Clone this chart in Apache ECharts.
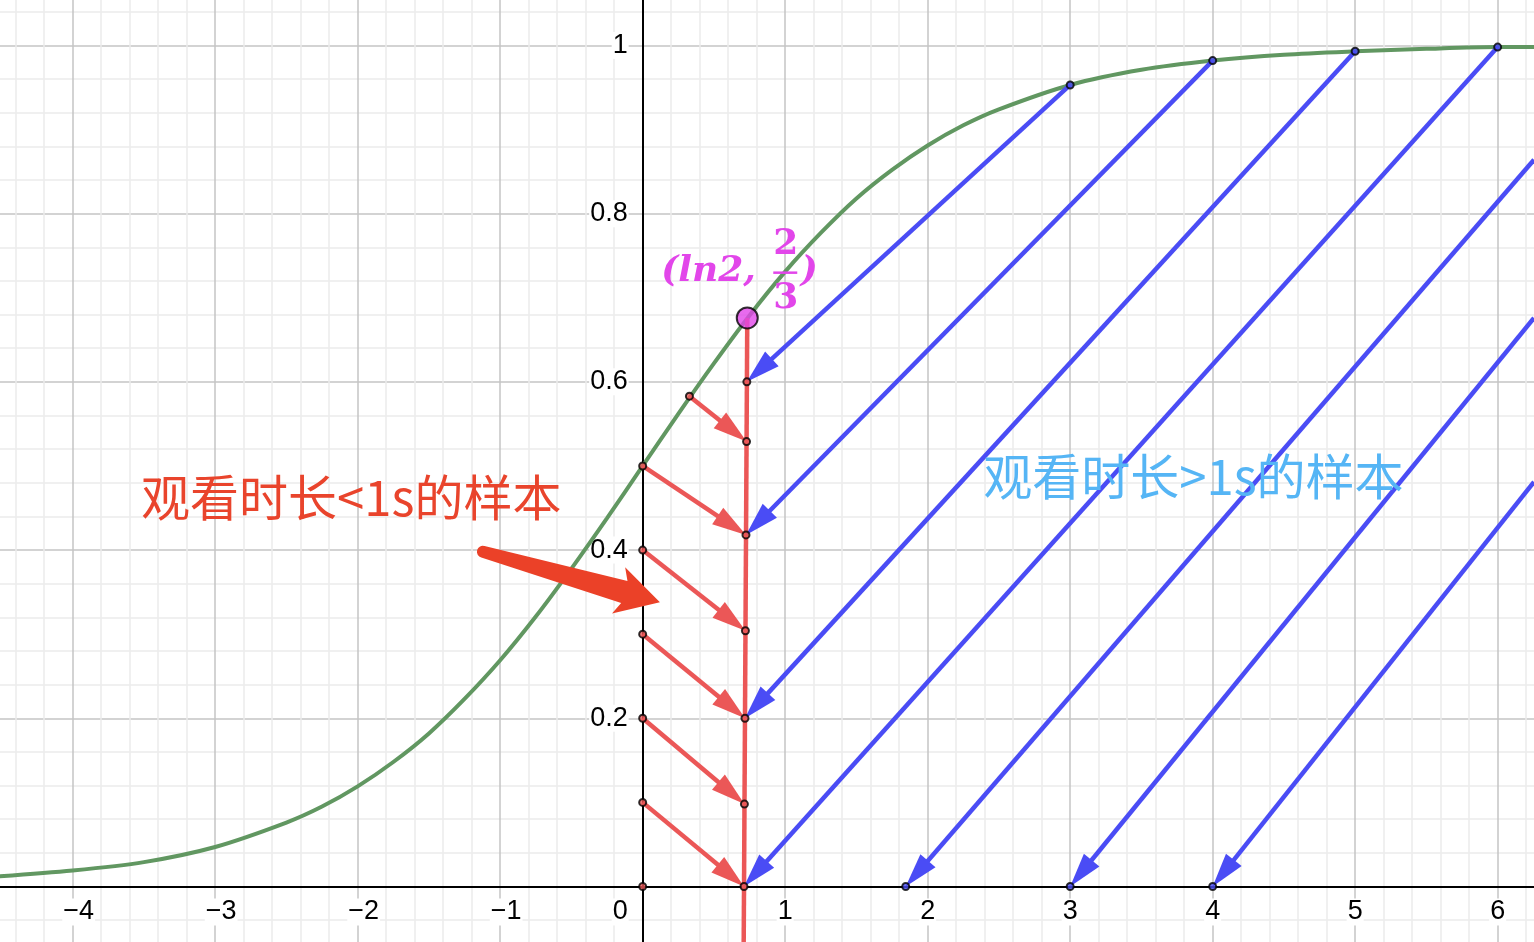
<!DOCTYPE html>
<html><head><meta charset="utf-8">
<script src="https://cdn.jsdelivr.net/npm/echarts@6/dist/echarts.min.js"></script>
<style>html,body{margin:0;padding:0;background:#fff;overflow:hidden}#c{width:1534px;height:942px}</style>
</head><body><div id="c"></div>
<script>
// ---- data ----
const curveX = [-4.6,-4,-3.5,-3,-2.5,-2.25,-2,-1.75,-1.5,-1.25,-1,-0.75,-0.5,-0.25,0,0.25,0.5,0.75,1,1.25,1.5,1.75,2,2.25,2.5,3,3.5,4,4.5,5,5.5,6,6.3];
const curveY = [0.011,0.019,0.029,0.047,0.076,0.095,0.119,0.148,0.182,0.223,0.269,0.321,0.378,0.438,0.500,0.562,0.622,0.679,0.731,0.777,0.818,0.852,0.881,0.905,0.924,0.953,0.971,0.982,0.989,0.993,0.996,0.998,0.998];
const blueFrom = [[3,0.953],[4,0.982],[5,0.993],[6,0.998],[6.255,0.864],[6.255,0.676],[6.255,0.481]];
const blueTo   = [[0.731,0.6],[0.725,0.418],[0.718,0.2],[0.711,0],[1.846,0],[3,0],[4,0]];
const redFrom  = [[0.328,0.583],[0,0.5],[0,0.4],[0,0.3],[0,0.2],[0,0.1]];
const redTo    = [[0.729,0.529],[0.725,0.418],[0.721,0.304],[0.718,0.2],[0.714,0.098],[0.711,0]];
const redLine  = [[0.734,0.676],[0.709,-0.066]];
const keyPoint = [0.734,0.676];
const redDots  = [...redFrom, ...redTo, [0.731,0.6], [0,0]];
const blueDots = [...blueFrom.slice(0,4), ...blueTo.slice(4)];
const redLabel = '观看时长<1s的样本';
const blueLabel = '观看时长>1s的样本';
const keyLabel = ['(ln2,', '2', '3', ')'];

// ---- annotation anchors (data space) ----
const redLabelAt = [-3.52, 0.463];
const blueLabelAt = [2.39, 0.488];
const bigArrowTail = [-1.121, 0.398];
const bigArrowTip = [0.121, 0.338];

const X_MIN = -4.51, X_MAX = 6.255, Y_MIN = -0.066, Y_MAX = 1.054;
const C_GREEN = '#619761', C_RED = '#eb5757', C_BLUE = '#4a4cf5', C_MAG = '#e246ea';
const TICK_FONT = 'Liberation Sans';

function arrowRender(color) {
  return function (params, api) {
    const p1 = api.coord([api.value(0), api.value(1)]);
    const p2 = api.coord([api.value(2), api.value(3)]);
    const dx = p2[0]-p1[0], dy = p2[1]-p1[1];
    const len = Math.hypot(dx, dy);
    const ux = dx/len, uy = dy/len;
    const hl = 34, hw = 10;
    const bx = p2[0]-ux*hl, by = p2[1]-uy*hl;
    return {type:'group', children:[
      {type:'line', shape:{x1:p1[0],y1:p1[1],x2:bx+ux*6,y2:by+uy*6}, style:{stroke:color,lineWidth:4.5}},
      {type:'polygon', shape:{points:[[p2[0],p2[1]],[bx-uy*hw,by+ux*hw],[bx+uy*hw,by-ux*hw]]}, style:{fill:color}}
    ]};
  };
}
const arrowData = (a,b) => a.map((p,i)=>[p[0],p[1],b[i][0],b[i][1]]);

const tickRich = {
  a:{fontSize:27,fontFamily:TICK_FONT,color:'#000',backgroundColor:'#fff',lineHeight:19,padding:[0,1]},
  s0:{width:45},
  sn:{width:12}
};

const option = {
  animation:false,
  backgroundColor:'#fff',
  grid:{left:0,right:0,top:0,bottom:0,outerBoundsMode:'none',containLabel:false},
  xAxis:{type:'value',min:X_MIN,max:X_MAX,splitNumber:10,
    axisLine:{onZero:false,lineStyle:{color:'#000',width:2}},
    axisTick:{show:false},
    axisLabel:{showMinLabel:false,showMaxLabel:false,margin:16,rich:tickRich,
      formatter:v=>{
        if (Math.abs(v-Math.round(v))>1e-6) return '';
        const r=Math.round(v);
        if (r===0) return '{a|0}{s0|}';
        if (r<0) return '{sn|}{a|\u2212'+(-r)+'}';
        return '{a|'+r+'}';
      }},
    splitLine:{show:true,showMinLine:false,showMaxLine:false,lineStyle:{color:'#c4c4c4',width:1.5}},
    minorTick:{show:false,splitNumber:5},
    minorSplitLine:{show:true,lineStyle:{color:'#ececec',width:1.5}}
  },
  yAxis:{type:'value',min:Y_MIN,max:Y_MAX,splitNumber:5,
    axisLine:{onZero:false,lineStyle:{color:'#000',width:2}},
    axisTick:{show:false},
    axisLabel:{showMinLabel:false,showMaxLabel:false,margin:14,rich:tickRich,
      formatter:v=>{
        const k=Math.round(v*5);
        if (Math.abs(v*5-k)>1e-6 || k===0) return '';
        return '{a|'+(k===5?'1':(k/5).toFixed(1))+'}';
      }},
    splitLine:{show:true,showMinLine:false,showMaxLine:false,lineStyle:{color:'#c4c4c4',width:1.5}},
    minorTick:{show:false,splitNumber:5},
    minorSplitLine:{show:true,lineStyle:{color:'#ececec',width:1.5}}
  },
  series:[
    {type:'line',data:curveX.map((x,i)=>[x,curveY[i]]),smooth:0.3,showSymbol:false,
      lineStyle:{color:C_GREEN,width:4},z:2},
    {type:'line',data:redLine,showSymbol:false,lineStyle:{color:C_RED,width:4.5},z:3},
    {type:'custom',data:arrowData(redFrom,redTo),renderItem:arrowRender(C_RED),encode:{x:[0,2],y:[1,3]},z:4},
    {type:'custom',data:arrowData(blueFrom,blueTo),renderItem:arrowRender(C_BLUE),encode:{x:[0,2],y:[1,3]},z:4},
    {type:'scatter',data:redDots,symbol:'circle',symbolSize:7,itemStyle:{color:C_RED,borderColor:'#000',borderWidth:2},z:5},
    {type:'scatter',data:blueDots,symbol:'circle',symbolSize:7,itemStyle:{color:C_BLUE,borderColor:'#000',borderWidth:2},z:5},
    {type:'scatter',data:[keyPoint],symbol:'circle',symbolSize:21,itemStyle:{color:C_MAG,borderColor:'#000',borderWidth:2},z:6}
  ]
};

const chart = echarts.init(document.getElementById('c'));
chart.setOption(option);
const px = p => chart.convertToPixel({gridIndex:0}, p);

// move the axes so they cross at the origin (labels follow)
const O = px([0,0]), corner = px([X_MIN, Y_MIN]);
chart.setOption({xAxis:{offset:O[1]-corner[1]}, yAxis:{offset:corner[0]-O[0]}});

const P = px(keyPoint);
const rl = px(redLabelAt), bl = px(blueLabelAt);
const T = px(bigArrowTail), H = px(bigArrowTip);
const L = Math.hypot(H[0]-T[0], H[1]-T[1]);
const u = [(H[0]-T[0])/L, (H[1]-T[1])/L], n = [-u[1], u[0]];
const at = (base, a, b) => [base[0]+u[0]*a+n[0]*b, base[1]+u[1]*a+n[1]*b];
const tailR = 6;
const tailArc = [];
for (let k=1;k<8;k++){ const t=Math.PI/2+Math.PI*k/8; tailArc.push(at(T, tailR*Math.cos(t), tailR*Math.sin(t))); }
const bigShape = [at(T,0,tailR), at(H,-37,11.5), at(H,-43,24), H.slice(), at(H,-43,-24), at(H,-37,-11.5), at(T,0,-tailR)]
  .concat(tailArc.reverse());

const serif = '"DejaVu Serif", serif';
chart.setOption({graphic:[
  {type:'polygon',z:50,shape:{points:bigShape},style:{fill:'#eb4128'}},
  {type:'text',z:60,x:rl[0],y:rl[1],style:{text:redLabel,font:'49px "Noto Sans CJK SC"',fill:'#e9442c',textAlign:'left',textVerticalAlign:'middle'}},
  {type:'text',z:60,x:bl[0],y:bl[1],style:{text:blueLabel,font:'49px "Noto Sans CJK SC"',fill:'#55b5f5',textAlign:'left',textVerticalAlign:'middle'}},
  {type:'text',z:60,x:P[0]-86,y:P[1]-46,style:{text:keyLabel[0],font:'italic bold 36px '+serif,fill:C_MAG,textAlign:'left',textVerticalAlign:'middle'}},
  {type:'text',z:60,x:P[0]+38.5,y:P[1]-73,style:{text:keyLabel[1],font:'bold 36px '+serif,fill:C_MAG,textAlign:'center',textVerticalAlign:'middle'}},
  {type:'rect',z:60,shape:{x:P[0]+26,y:P[1]-46.5,width:24,height:2.5},style:{fill:C_MAG}},
  {type:'text',z:60,x:P[0]+38.5,y:P[1]-19,style:{text:keyLabel[2],font:'bold 36px '+serif,fill:C_MAG,textAlign:'center',textVerticalAlign:'middle'}},
  {type:'text',z:60,x:P[0]+62,y:P[1]-46,style:{text:keyLabel[3],font:'italic bold 36px '+serif,fill:C_MAG,textAlign:'center',textVerticalAlign:'middle'}}
]});
</script></body></html>
